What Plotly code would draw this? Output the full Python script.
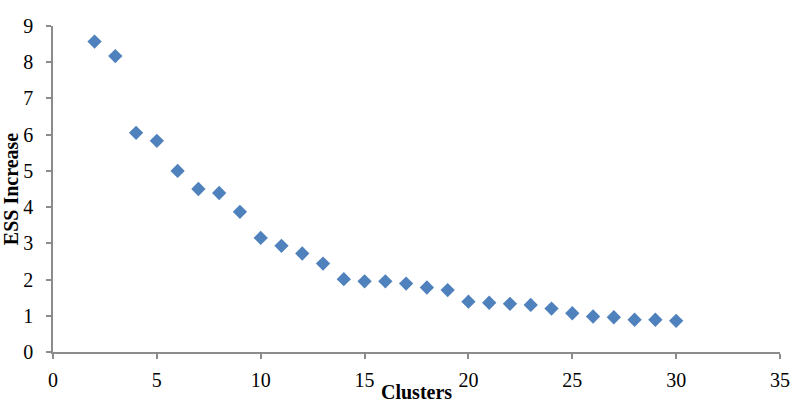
import plotly.graph_objects as go

clusters = list(range(2, 31))
ess_increase = [8.57, 8.17, 6.05, 5.83, 5.00, 4.50, 4.39, 3.87, 3.15, 2.93,
                2.72, 2.44, 2.01, 1.95, 1.95, 1.89, 1.78, 1.71, 1.39, 1.36,
                1.33, 1.30, 1.20, 1.07, 0.98, 0.96, 0.89, 0.89, 0.86]

font_family = "Liberation Serif, Times New Roman, serif"
axis_color = "#8c8c8c"

fig = go.Figure(go.Scatter(
    x=clusters, y=ess_increase, mode="markers",
    marker=dict(symbol="diamond", size=11, color="#4F81BD"),
    showlegend=False,
))

fig.update_layout(
    width=794, height=400,
    margin=dict(l=53, r=14, t=26, b=48),
    paper_bgcolor="white", plot_bgcolor="white",
    font=dict(family=font_family, size=20, color="black"),
    xaxis=dict(
        range=[0, 35], tickmode="linear", tick0=0, dtick=5,
        showgrid=False, zeroline=False, showline=True, linecolor=axis_color, linewidth=1.5,
        ticks="outside", ticklen=5, tickcolor=axis_color, tickwidth=1.5,
        ticklabelstandoff=4, automargin=False,
    ),
    yaxis=dict(
        range=[0, 9], tickmode="linear", tick0=0, dtick=1,
        showgrid=False, zeroline=False, showline=True, linecolor=axis_color, linewidth=1.5,
        ticks="outside", ticklen=5, tickcolor=axis_color, tickwidth=1.5,
        ticklabelstandoff=9, automargin=False,
        title=dict(text="<b>ESS Increase</b>", standoff=6, font=dict(size=20)),
    ),
    annotations=[dict(
        text="<b>Clusters</b>", x=17.5, xref="x", y=-0.082, yref="paper",
        xanchor="center", yanchor="top", showarrow=False, font=dict(size=20),
    )],
)

fig.write_html("out.html")
